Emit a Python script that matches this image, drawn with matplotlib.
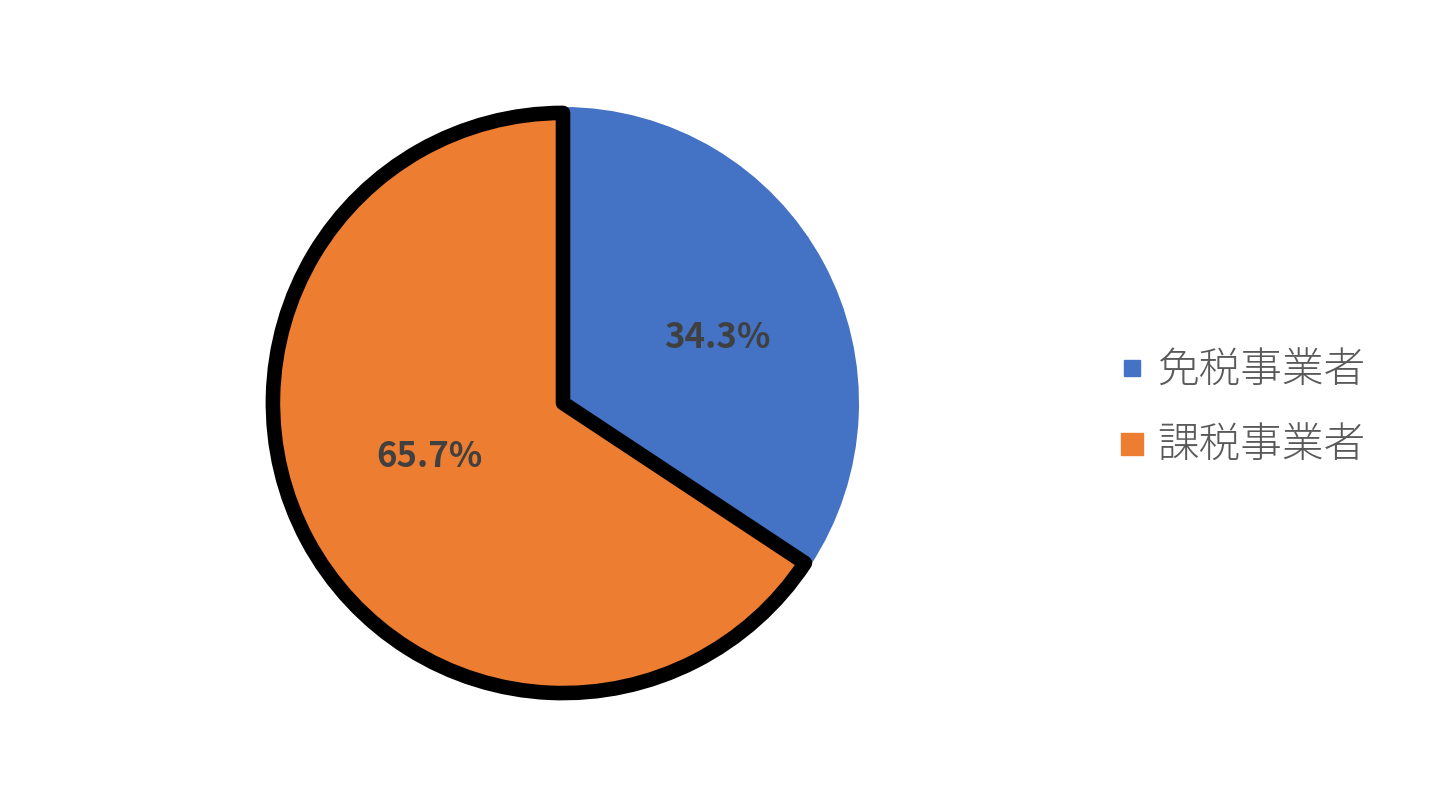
import matplotlib
matplotlib.use("Agg")
import matplotlib.pyplot as plt
from matplotlib.lines import Line2D
from matplotlib.font_manager import FontProperties

labels = ["免税事業者", "課税事業者"]
shares = [34.3, 65.7]
colors = ["#4472C4", "#ED7D31"]
legend_marker_px = [11, 16]

plt.rcParams["font.family"] = ["Noto Sans CJK JP", "DejaVu Sans"]

fig = plt.figure(figsize=(14.3, 8.01), dpi=100)
# square axes in pixels: centre (563, 403), radius 296
cx, cy, r = 563, 403, 296
W, H = 1430, 801
ax = fig.add_axes([(cx - r) / W, (H - cy - r) / H, 2 * r / W, 2 * r / H])

wedges, texts, autotexts = ax.pie(
    shares, colors=colors, startangle=90, counterclock=False, radius=1,
    autopct="%.1f%%", pctdistance=0.55,
    textprops=dict(fontsize=25, fontweight="bold", color="#404040"),
    wedgeprops=dict(linewidth=0),
)
autotexts[0].set_position((0.52, 0.22))
autotexts[1].set_position((-0.45, -0.18))

# thick black outline around the larger slice, drawn just inside the edge
ax.pie(shares, colors=["none", "none"], startangle=90,
       counterclock=False, radius=0.98, wedgeprops=dict(linewidth=0))
outline = ax.patches[-1]
outline.set_edgecolor("black")
outline.set_linewidth(10.5)
outline.set_joinstyle("round")

ax.set_xlim(-1, 1)
ax.set_ylim(-1, 1)
ax.set_aspect("auto")
ax.axis("off")

handles = [Line2D([], [], marker="s", linestyle="none", markersize=ms,
                  markerfacecolor=c, markeredgecolor=c)
           for c, ms in zip(colors, legend_marker_px)]
fig.legend(handles, labels, loc="center left", bbox_to_anchor=(0.751, 0.49),
           frameon=False, prop=FontProperties(family=["Noto Sans CJK JP", "DejaVu Sans"],
                                              weight="light", size=30),
           labelcolor="#595959",
           handletextpad=0.1, labelspacing=0.78, handlelength=1.0)

fig.savefig("out.png", dpi=100, facecolor="white")
